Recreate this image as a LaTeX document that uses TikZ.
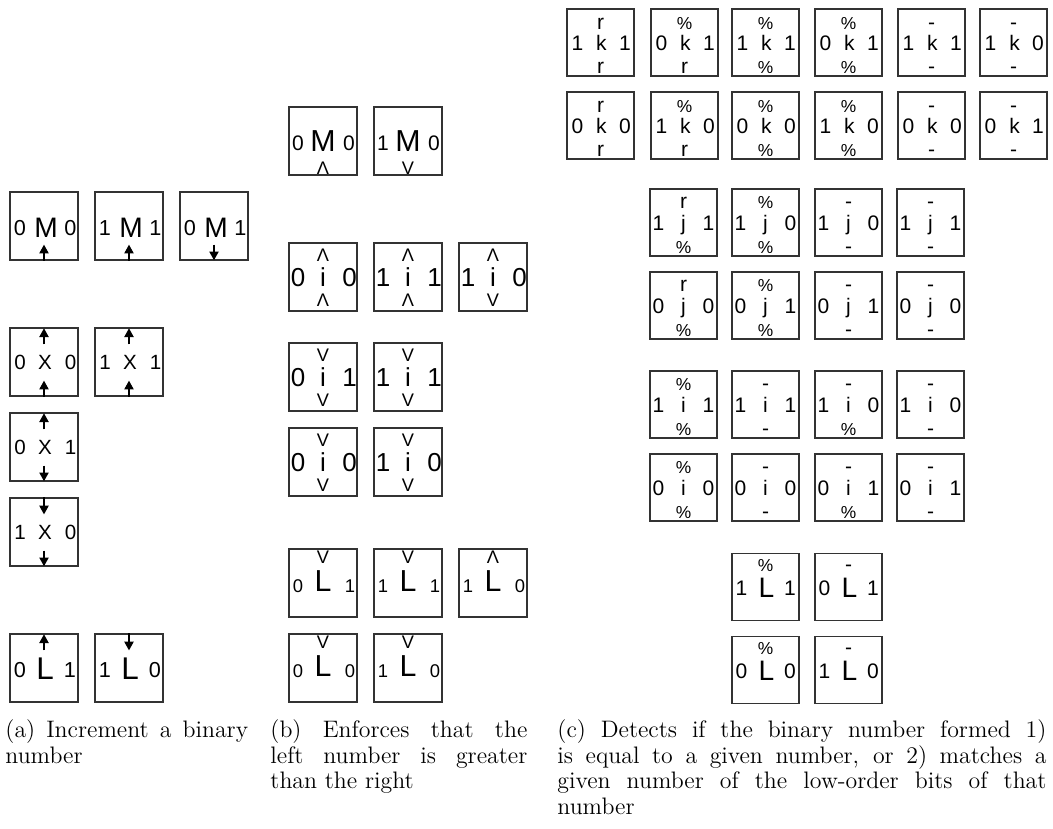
\documentclass[tikz,border=0pt]{standalone}
\usepackage{fontspec}
\newfontfamily\arl{Liberation Sans}
\usetikzlibrary{calc,arrows.meta}
\tikzset{
  x=0.4615pt, y=-0.4615pt,
  tile/.style={draw=black!80, line width=0.6pt, minimum size=31.4pt, inner sep=0pt},
  tilec/.style={tile, minimum size=30.9pt},
  fs/.style={font=\arl\fontsize{#1pt}{#1pt}\selectfont, text height=0.716*#1pt, text depth=0pt, inner sep=0pt},
  arr/.style={line width=0.5pt, -{Triangle[length=4pt,width=4.3pt]}},
  captext/.style={font=\fontsize{11pt}{11.9pt}\selectfont, align=justify, inner sep=0pt, anchor=north west},
  sidelbl/.style={fs=10}, midlbl/.style={fs=10}, toplbl/.style={fs=8.4}, botlbl/.style={fs=8.4},
  tstyle/.style={tile}
}
\newcommand\pc{{\fontsize{8pt}{8pt}\selectfont\%}}
\def\oL{-24}\def\oR{26}\def\oD{0}\def\oMx{0}\def\oMy{0}\def\oT{-22}\def\oB{23}
\newcommand\Tile[8]{%
  \node[tstyle] (#1) at (#2,#3) {};
  \node[sidelbl] (#1l) at ($(#1.center)+(\oL,\oD)$) {#4};
  \node[midlbl] (#1m) at ($(#1.center)+(\oMx,\oMy)$) {#5};
  \node[sidelbl] (#1r) at ($(#1.center)+(\oR,\oD)$) {#6};
  \if\relax\detokenize{#7}\relax\else\node[toplbl] (#1t) at ($(#1.center)+(0,\oT)$) {#7};\fi
  \if\relax\detokenize{#8}\relax\else\node[botlbl] (#1b) at ($(#1.center)+(0,\oB)$) {#8};\fi
}
\newcommand\upB[1]{\draw[arr] (#1.south) -- ($(#1.south)+(0,-16)$);}
\newcommand\upT[1]{\draw[arr] ($(#1.north)+(0,17)$) -- ($(#1.north)+(0,1)$);}
\newcommand\dnB[1]{\draw[arr] ($(#1.south)+(0,-16)$) -- ($(#1.south)+(0,-0.5)$);}
\newcommand\dnT[1]{\draw[arr] (#1.north) -- ($(#1.north)+(0,17)$);}
\begin{document}
\begin{tikzpicture}
\useasboundingbox (0,0) rectangle (1053,828);
% ---------------- panel (a)
\begin{scope}[sidelbl/.style={fs=10}, midlbl/.style={fs=13}]
\def\oL{-24}\def\oR{26.5}\def\oD{2}\def\oMx{2}\def\oMy{1}
\Tile{a1}{44}{226}{0}{M}{0}{}{}
\Tile{a2}{129}{226}{1}{M}{1}{}{}
\Tile{a3}{214}{226}{0}{M}{1}{}{}
\end{scope}
\begin{scope}[sidelbl/.style={fs=9.5}, midlbl/.style={fs=9.5}]
\def\oL{-24}\def\oR{26.5}\def\oD{0}\def\oMx{1}\def\oMy{0}
\Tile{a4}{44}{362}{0}{X}{0}{}{}
\Tile{a5}{129}{362}{1}{X}{1}{}{}
\Tile{a6}{44}{447}{0}{X}{1}{}{}
\Tile{a7}{44}{532}{1}{X}{0}{}{}
\end{scope}
\begin{scope}[sidelbl/.style={fs=10}, midlbl/.style={fs=14.5}]
\def\oL{-24}\def\oR{26}\def\oD{2}\def\oMx{1}\def\oMy{0}
\Tile{a8}{44}{668}{0}{L}{1}{}{}
\Tile{a9}{129}{668}{1}{L}{0}{}{}
\end{scope}
\upB{a1}\upB{a2}\dnB{a3}
\upT{a4}\upB{a4}\upT{a5}\upB{a5}
\upT{a6}\dnB{a6}\dnT{a7}\dnB{a7}
\upT{a8}\dnT{a9}
% ---------------- panel (b)
\begin{scope}[sidelbl/.style={fs=9.7}, midlbl/.style={fs=14}]
\def\oL{-25}\def\oR{26}\def\oD{1.5}\def\oMx{0}\def\oMy{0}\def\oB{27}
\Tile{b1}{323}{141}{0}{M}{0}{}{Λ}
\Tile{b2}{408}{141}{1}{M}{0}{}{V}
\end{scope}
\begin{scope}[sidelbl/.style={fs=12}, midlbl/.style={fs=12}]
\def\oL{-25}\def\oR{26.5}\def\oD{0.5}\def\oMx{0}\def\oMy{0.5}\def\oT{-22.5}\def\oB{23}
\Tile{b3}{323}{277}{0}{i}{0}{Λ}{Λ}
\Tile{b4}{408}{277}{1}{i}{1}{Λ}{Λ}
\Tile{b5}{493}{277}{1}{i}{0}{Λ}{V}
\Tile{b6}{323}{377}{0}{i}{1}{V}{V}
\Tile{b7}{408}{377}{1}{i}{1}{V}{V}
\Tile{b8}{323}{462}{0}{i}{0}{V}{V}
\Tile{b9}{408}{462}{1}{i}{0}{V}{V}
\end{scope}
\begin{scope}[sidelbl/.style={fs=8.5}, midlbl/.style={fs=14}]
\def\oL{-25}\def\oR{27}\def\oD{3}\def\oMx{0}\def\oMy{-2}\def\oT{-26}
\Tile{b10}{323}{583}{0}{L}{1}{V}{}
\Tile{b11}{408}{583}{1}{L}{1}{V}{}
\Tile{b12}{493}{583}{1}{L}{0}{Λ}{}
\Tile{b13}{323}{668}{0}{L}{0}{V}{}
\Tile{b14}{408}{668}{1}{L}{0}{V}{}
\end{scope}
% ---------------- panel (c)
\begin{scope}[tstyle/.style={tilec}, sidelbl/.style={fs=9.7}, midlbl/.style={fs=9.7}, toplbl/.style={fs=9.7}, botlbl/.style={fs=9.7}]
\def\oL{-23}\def\oR{24.5}\def\oD{0}\def\oMx{1}\def\oMy{0}\def\oT{-21}\def\oB{23}
\Tile{c1}{600.5}{42.5}{1}{k}{1}{r}{r}
\Tile{c2}{684.5}{42.5}{0}{k}{1}{\pc}{r}
\Tile{c3}{765.5}{42.5}{1}{k}{1}{\pc}{\pc}
\Tile{c4}{848.5}{42.5}{0}{k}{1}{\pc}{\pc}
\Tile{c5}{931.5}{42.5}{1}{k}{1}{-}{-}
\Tile{c6}{1013.5}{42.5}{1}{k}{0}{-}{-}
\Tile{c7}{600.5}{125.5}{0}{k}{0}{r}{r}
\Tile{c8}{684.5}{125.5}{1}{k}{0}{\pc}{r}
\Tile{c9}{765.5}{125.5}{0}{k}{0}{\pc}{\pc}
\Tile{c10}{848.5}{125.5}{1}{k}{0}{\pc}{\pc}
\Tile{c11}{931.5}{125.5}{0}{k}{0}{-}{-}
\Tile{c12}{1013.5}{125.5}{0}{k}{1}{-}{-}
\def\oL{-25}\def\oR{25}\def\oMx{0}\def\oT{-22}\def\oB{23.5}
\Tile{c13}{683.5}{222.5}{1}{j}{1}{r}{\pc}
\Tile{c14}{765.5}{222.5}{1}{j}{0}{\pc}{\pc}
\Tile{c15}{848.5}{222.5}{1}{j}{0}{-}{-}
\Tile{c16}{930.5}{222.5}{1}{j}{1}{-}{-}
\Tile{c17}{683.5}{305.5}{0}{j}{0}{r}{\pc}
\Tile{c18}{765.5}{305.5}{0}{j}{1}{\pc}{\pc}
\Tile{c19}{848.5}{305.5}{0}{j}{1}{-}{-}
\Tile{c20}{930.5}{305.5}{0}{j}{0}{-}{-}
\Tile{c21}{683.5}{404.5}{1}{i}{1}{\pc}{\pc}
\Tile{c22}{765.5}{404.5}{1}{i}{1}{-}{-}
\Tile{c23}{848.5}{404.5}{1}{i}{0}{-}{\pc}
\Tile{c24}{930.5}{404.5}{1}{i}{0}{-}{-}
\Tile{c25}{683.5}{487.5}{0}{i}{0}{\pc}{\pc}
\Tile{c26}{765.5}{487.5}{0}{i}{0}{-}{-}
\Tile{c27}{848.5}{487.5}{0}{i}{1}{-}{\pc}
\Tile{c28}{930.5}{487.5}{0}{i}{1}{-}{-}
\end{scope}
\begin{scope}[tstyle/.style={tilec}, sidelbl/.style={fs=9.7}, midlbl/.style={fs=13}, toplbl/.style={fs=9.7}]
\def\oL{-24}\def\oR{24.5}\def\oD{0.5}\def\oMx{1}\def\oMy{0}\def\oT{-23}
\Tile{c29}{765.5}{587}{1}{L}{1}{\pc}{}
\Tile{c30}{848.5}{587}{0}{L}{1}{-}{}
\Tile{c31}{765.5}{670}{0}{L}{0}{\pc}{}
\Tile{c32}{848.5}{670}{1}{L}{0}{-}{}
\end{scope}
% ---------------- captions
\node[captext, text width=112pt] (capa) at (5,719) {(a) Increment a binary\linebreak number};
\node[captext, text width=118.6pt] (capb) at (270,719) {(b) Enforces that the\linebreak left number is greater\linebreak than the right};
\node[captext, text width=225.7pt] (capc) at (557,719) {(c) Detects if the binary number formed 1)\linebreak is equal to a given number, or 2) matches a\linebreak given number of the low-order bits of that\linebreak number};
\end{tikzpicture}
\end{document}
